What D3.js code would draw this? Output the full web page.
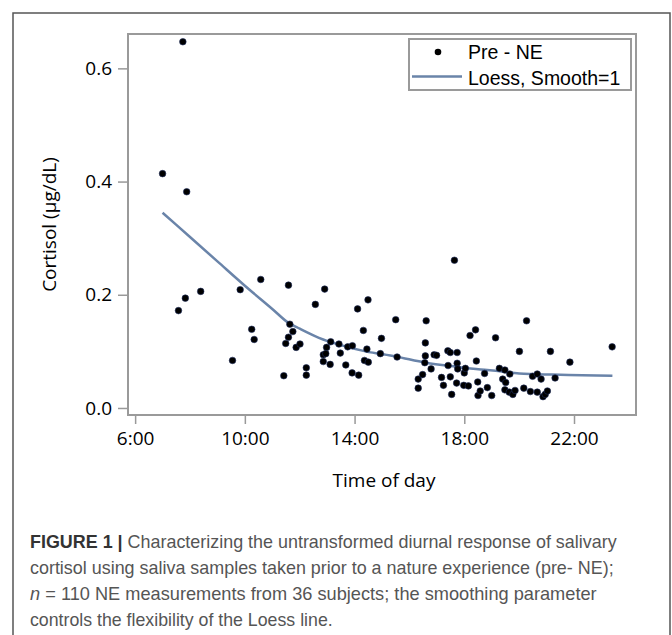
<!DOCTYPE html>
<html>
<head>
<meta charset="utf-8">
<script src="https://cdn.jsdelivr.net/npm/d3@7"></script>
<style>
  body { margin: 0; background: #fff; }
  svg text { font-family: "Open Sans", sans-serif; }
</style>
</head>
<body>
<div id="chart"></div>
<script>
// sample time (hours of day) and cortisol (ug/dL)
var timeHours = [7.74, 7.00, 7.88, 7.58, 7.83, 8.39, 9.55, 9.83, 10.25, 10.34,
  10.58, 11.42, 11.49, 11.59, 11.59, 11.64, 11.75, 11.87, 12.01, 12.24,
  12.24, 12.57, 12.91, 13.13, 12.98, 12.86, 12.86, 13.11, 12.95, 13.43,
  13.48, 13.68, 13.75, 13.92, 13.91, 14.15, 14.11, 14.49, 14.32, 14.45,
  14.36, 14.50, 14.98, 14.94, 15.50, 15.55, 16.32, 16.32, 16.48, 16.61,
  16.58, 16.58, 16.56, 16.79, 16.90, 16.99, 17.17, 17.24, 17.40, 17.49,
  17.41, 17.49, 17.54, 17.64, 17.74, 17.74, 17.76, 17.72, 18.00, 18.04,
  17.98, 18.15, 18.21, 18.41, 18.44, 18.49, 18.50, 18.58, 18.74, 18.84,
  19.00, 19.14, 19.28, 19.48, 19.40, 19.51, 19.48, 19.66, 19.64, 19.77,
  19.85, 20.01, 20.17, 20.27, 20.41, 20.49, 20.66, 20.66, 20.80, 20.87,
  20.95, 21.03, 21.14, 21.31, 21.85, 23.39];
var cortisol = [0.647, 0.414, 0.382, 0.172, 0.194, 0.206, 0.084, 0.209, 0.139, 0.121,
  0.227, 0.057, 0.114, 0.217, 0.125, 0.148, 0.135, 0.107, 0.113, 0.071,
  0.058, 0.183, 0.210, 0.117, 0.107, 0.094, 0.082, 0.077, 0.096, 0.113,
  0.097, 0.076, 0.108, 0.110, 0.062, 0.058, 0.175, 0.191, 0.137, 0.104,
  0.084, 0.081, 0.123, 0.096, 0.156, 0.090, 0.051, 0.035, 0.059, 0.154,
  0.115, 0.092, 0.080, 0.069, 0.094, 0.093, 0.054, 0.040, 0.101, 0.098,
  0.075, 0.055, 0.024, 0.261, 0.098, 0.079, 0.069, 0.044, 0.062, 0.070,
  0.040, 0.039, 0.128, 0.138, 0.083, 0.046, 0.022, 0.030, 0.061, 0.036,
  0.022, 0.124, 0.070, 0.067, 0.051, 0.045, 0.032, 0.060, 0.028, 0.024,
  0.031, 0.100, 0.035, 0.154, 0.029, 0.056, 0.060, 0.028, 0.051, 0.020,
  0.024, 0.030, 0.100, 0.053, 0.081, 0.108];

// loess fit
var loessHours = [7.0, 8.0, 9.0, 10.0, 11.0, 11.6, 12.0, 12.7, 13.5, 14.4,
  15.5, 16.6, 17.7, 18.6, 19.3, 20.0, 21.2, 22.3, 23.4];
var loessValues = [0.345, 0.302, 0.259, 0.216, 0.175, 0.150, 0.140, 0.124, 0.111, 0.100,
  0.091, 0.080, 0.073, 0.068, 0.065, 0.061, 0.059, 0.058, 0.057];

var xTicks = [6, 10, 14, 18, 22];
var yTicks = [0, 0.2, 0.4, 0.6];

var captionLines = [
  ["FIGURE 1 | ", "Characterizing the untransformed diurnal response of salivary"],
  ["", "cortisol using saliva samples taken prior to a nature experience (pre- NE);"],
  ["n", " = 110 NE measurements from 36 subjects; the smoothing parameter"],
  ["", "controls the flexibility of the Loess line."]
];
var captionWidths = [587, 584, 567, 303];

var width = 672, height = 635;
var svg = d3.select("#chart").append("svg")
  .attr("width", width)
  .attr("height", height);

// outer figure border
svg.append("path")
  .attr("d", "M13,640 V13 H670 V640")
  .attr("fill", "none")
  .attr("stroke", "#555")
  .attr("stroke-width", 1.5);

var plot = {left: 128, right: 636, top: 34, bottom: 415};

var x = d3.scaleLinear().domain([5.74, 24.26]).range([plot.left, plot.right]);
var y = d3.scaleLinear().domain([-0.0124, 0.6607]).range([plot.bottom, plot.top]);

// x axis
var xAxis = svg.append("g")
  .attr("transform", "translate(0," + plot.bottom + ")")
  .call(d3.axisBottom(x).tickValues(xTicks).tickSize(9).tickPadding(8)
    .tickFormat(function(d) { return d + ":00"; }));
// y axis
var yAxis = svg.append("g")
  .attr("transform", "translate(" + plot.left + ",0)")
  .call(d3.axisLeft(y).tickValues(yTicks).tickSize(10).tickPadding(6)
    .tickFormat(d3.format(".1f")));

[xAxis, yAxis].forEach(function(a) {
  a.select(".domain").remove();
  a.selectAll(".tick line").attr("stroke", "#999").attr("stroke-width", 1.5);
  a.selectAll(".tick text")
    .attr("fill", "#000")
    .style("font-size", "19px")
    .style("font-family", "Open Sans");
});

// plot frame
svg.append("rect")
  .attr("x", plot.left)
  .attr("y", plot.top)
  .attr("width", plot.right - plot.left)
  .attr("height", plot.bottom - plot.top)
  .attr("fill", "none")
  .attr("stroke", "#9a9a9a")
  .attr("stroke-width", 2);

// axis titles
svg.append("text")
  .attr("x", (plot.left + plot.right) / 2 + 2)
  .attr("y", 487)
  .attr("text-anchor", "middle")
  .style("font-size", "19px")
  .text("Time of day");

svg.append("text")
  .attr("transform", "translate(56," + (plot.top + plot.bottom) / 2 + ") rotate(-90)")
  .attr("text-anchor", "middle")
  .style("font-size", "19px")
  .text("Cortisol (\u00b5g/dL)");

// loess line
var line = d3.line()
  .x(function(d, i) { return x(loessHours[i]); })
  .y(function(d) { return y(d); })
  .curve(d3.curveMonotoneX);

svg.append("path")
  .datum(loessValues)
  .attr("d", line)
  .attr("fill", "none")
  .attr("stroke", "#6a84a9")
  .attr("stroke-width", 2.5);

// points
svg.selectAll(".pt")
  .data(timeHours)
  .enter()
  .append("circle")
  .attr("class", "pt")
  .attr("cx", function(d) { return x(d); })
  .attr("cy", function(d, i) { return y(cortisol[i]); })
  .attr("r", 3.3)
  .attr("fill", "#000")
  .attr("stroke", "#1c2b5c")
  .attr("stroke-width", 0.6);

// legend
var lg = svg.append("g");
lg.append("rect")
  .attr("x", 409).attr("y", 39)
  .attr("width", 222).attr("height", 51)
  .attr("fill", "#fff")
  .attr("stroke", "#9a9a9a")
  .attr("stroke-width", 2);
lg.append("circle")
  .attr("cx", 438).attr("cy", 52).attr("r", 3.3)
  .attr("fill", "#000");
lg.append("line")
  .attr("x1", 412).attr("x2", 462)
  .attr("y1", 76.5).attr("y2", 76.5)
  .attr("stroke", "#6a84a9")
  .attr("stroke-width", 2.5);
lg.selectAll(".lt")
  .data(["Pre - NE", "Loess, Smooth=1"])
  .enter()
  .append("text")
  .attr("x", 468)
  .attr("y", function(d, i) { return 59 + i * 25.5; })
  .style("font-family", "Liberation Sans, Arial, sans-serif")
  .style("font-size", "19.5px")
  .text(function(d) { return d; });

// caption
captionLines.forEach(function(parts, i) {
  var t = svg.append("text")
    .attr("x", 0)
    .attr("y", 0)
    .style("font-family", "Liberation Sans, Arial, sans-serif")
    .style("font-size", "18px")
    .attr("fill", "#555");
  if (i === 0) {
    t.append("tspan").attr("font-weight", "bold").attr("fill", "#333").text(parts[0]);
  } else if (i === 2) {
    t.append("tspan").attr("font-style", "italic").text(parts[0]);
  }
  t.append("tspan").text(parts[1]);
  var w = t.node().getComputedTextLength();
  var k = captionWidths[i] / w;
  t.attr("transform", "translate(30," + (548.3 + i * 25.8) + ") scale(" + k + ",1)");
});
</script>
</body>
</html>
